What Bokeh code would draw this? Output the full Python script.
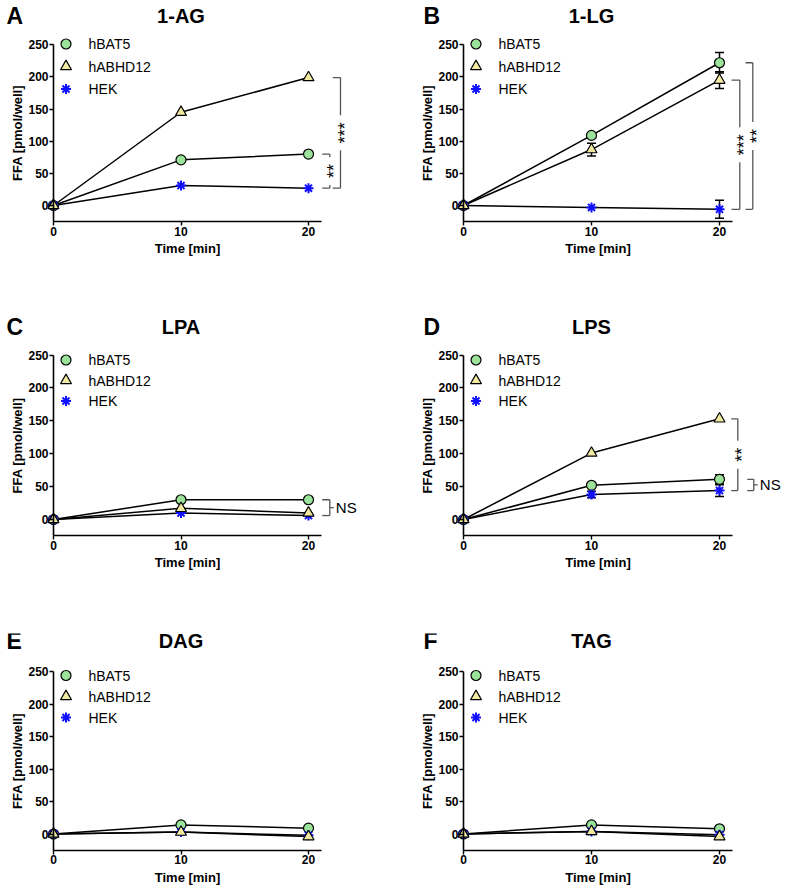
import math
from bokeh.plotting import figure
from bokeh.models import Range1d, FixedTicker, Label, Whisker, TeeHead, ColumnDataSource
from bokeh.layouts import gridplot
from bokeh.core.properties import value
from bokeh.embed import file_html
from bokeh.resources import INLINE

FONT = "Liberation Sans"

# ---------------- data ----------------
time_min = [0, 10, 20]
series_names = ["hBAT5", "hABHD12", "HEK"]
y_ticks = [0, 50, 100, 150, 200, 250]
x_ticks = [0, 10, 20]
y_label = "FFA [pmol/well]"
x_label = "Time [min]"

# A: 1-AG
ag_hbat5 = [0, 71, 80]
ag_hbat5_sem = [0, 0, 0]
ag_habhd12 = [0, 145, 199]
ag_habhd12_sem = [0, 0, 0]
ag_hek = [0, 31, 27]
ag_hek_sem = [0, 0, 0]

# B: 1-LG
lg_hbat5 = [0, 109, 222]
lg_hbat5_sem = [0, 0, 16]
lg_habhd12 = [0, 87, 195]
lg_habhd12_sem = [0, 10, 13]
lg_hek = [0, -3, -6]
lg_hek_sem = [0, 0, 14]

# C: LPA
pa_hbat5 = [0, 30, 30]
pa_hbat5_sem = [0, 0, 0]
pa_habhd12 = [0, 17, 10]
pa_habhd12_sem = [0, 0, 0]
pa_hek = [0, 10, 6]
pa_hek_sem = [0, 0, 0]

# D: LPS
ps_hbat5 = [0, 52, 61]
ps_hbat5_sem = [0, 0, 7]
ps_habhd12 = [0, 101, 153]
ps_habhd12_sem = [0, 0, 0]
ps_hek = [0, 38, 44]
ps_hek_sem = [0, 5, 9]

# E: DAG
dag_hbat5 = [0, 14, 9]
dag_hbat5_sem = [0, 0, 0]
dag_habhd12 = [0, 3, -4]
dag_habhd12_sem = [0, 0, 0]
dag_hek = [0, 3, -2]
dag_hek_sem = [0, 0, 0]

# F: TAG
tag_hbat5 = [0, 14, 8]
tag_hbat5_sem = [0, 0, 0]
tag_habhd12 = [0, 4, -4]
tag_habhd12_sem = [0, 0, 0]
tag_hek = [0, 4, -1]
tag_hek_sem = [0, 0, 0]

# ---------------- styling / geometry ----------------
GREEN = "#9be39b"
YELLOW = "#efe9a2"
BLUE = "#1010ff"
BRACKET = "#555555"
Y_MIN, Y_MAX = -25, 250
X_MIN, X_MAX = 0, 21

COLS = [dict(left=0, w=394, x0=53, sx=12.75, letter_x=6),
        dict(left=394, w=394, x0=463, sx=12.8, letter_x=423)]
# bt / bb: top and bottom borders, chosen so the y-axis title is centred on the axis
ROWS = [dict(top=0, h=290, bt=0, bb=25, y0=205, sy=0.643, title_y=15.5, leg_y=43.5, leg_dy=22.5),
        dict(top=290, h=300, bt=10, bb=0, y0=519, sy=0.658, title_y=326, leg_y=359.5, leg_dy=20.5),
        dict(top=590, h=298, bt=43, bb=0, y0=833.5, sy=0.65, title_y=640, leg_y=675, leg_dy=21)]


def make_panel(letter, title, col, row, data, brackets):
    c, r = COLS[col], ROWS[row]
    sx, sy = c["sx"], r["sy"]

    def dxp(px):
        return (px - c["x0"]) / sx

    def dyp(py):
        return (r["y0"] - py) / sy

    W, H = c["w"], r["h"]
    p = figure(width=W, height=H,
               x_range=Range1d(dxp(c["left"]), dxp(c["left"] + W)),
               y_range=Range1d(dyp(r["top"] + H - r["bb"]), dyp(r["top"] + r["bt"])),
               output_backend="svg", toolbar_location=None, min_border=0,
               min_border_top=r["bt"], min_border_bottom=r["bb"],
               outline_line_color=None, background_fill_color="white",
               border_fill_color="white")
    p.grid.visible = False

    # axes
    p.xaxis.fixed_location = Y_MIN
    p.xaxis.bounds = (X_MIN, X_MAX)
    p.xaxis.ticker = FixedTicker(ticks=x_ticks)
    p.xaxis.axis_label = x_label
    p.xaxis.axis_label_standoff = 2
    p.yaxis.fixed_location = 0
    p.yaxis.bounds = (Y_MIN, Y_MAX)
    p.yaxis.ticker = FixedTicker(ticks=y_ticks)
    p.yaxis.axis_label = y_label
    p.yaxis.axis_label_standoff = 0
    for ax in (p.xaxis, p.yaxis):
        ax.axis_line_color = "black"
        ax.axis_line_width = 1.6
        ax.major_tick_line_color = "black"
        ax.major_tick_line_width = 1.4
        ax.major_tick_out = 4
        ax.major_tick_in = 0
        ax.minor_tick_line_color = None
        ax.major_label_text_font = FONT
        ax.major_label_text_font_style = "bold"
        ax.major_label_text_font_size = "12px"
        ax.major_label_text_color = "black"
        ax.major_label_standoff = 1
        ax.axis_label_text_font = FONT
        ax.axis_label_text_font_style = "bold"
        ax.axis_label_text_font_size = "13px"
        ax.axis_label_text_color = "black"

    bat5, bat5_sem, abhd, abhd_sem, hek, hek_sem = data

    # lines
    for ys in (bat5, abhd, hek):
        p.line(time_min, ys, line_color="black", line_width=1.5)

    # error bars
    for ys, sem in ((bat5, bat5_sem), (abhd, abhd_sem), (hek, hek_sem)):
        xs = [t for t, s in zip(time_min, sem) if s > 0]
        if not xs:
            continue
        up = [v + s for v, s in zip(ys, sem) if s > 0]
        lo = [v - s for v, s in zip(ys, sem) if s > 0]
        src = ColumnDataSource(dict(x=xs, upper=up, lower=lo))
        p.add_layout(Whisker(source=src, base="x", upper="upper", lower="lower",
                             line_color="black", line_width=1.5,
                             upper_head=TeeHead(size=9, line_color="black", line_width=1.5),
                             lower_head=TeeHead(size=9, line_color="black", line_width=1.5)))

    # markers
    p.scatter(time_min, bat5, marker="circle", size=10, fill_color=GREEN,
              line_color="black", line_width=1.2)
    p.scatter(time_min, hek, marker="asterisk", size=10, line_color=BLUE, line_width=2)
    p.scatter(time_min, abhd, marker="triangle", size=11, fill_color=YELLOW,
              line_color="black", line_width=1.2)

    # legend (drawn in the plot, top-left)
    lx = dxp(c["x0"] + 12.5)
    ly = [dyp(r["leg_y"] + i * r["leg_dy"]) for i in range(3)]
    p.scatter([lx], [ly[0]], marker="circle", size=10, fill_color=GREEN,
              line_color="black", line_width=1.2)
    p.scatter([lx], [ly[1]], marker="triangle", size=11, fill_color=YELLOW,
              line_color="black", line_width=1.2)
    p.scatter([lx], [ly[2]], marker="asterisk", size=10, line_color=BLUE, line_width=2)
    p.text(x=[dxp(c["x0"] + 35)] * 3, y=ly, text=series_names,
           text_font=value(FONT), text_font_size="14px", text_color="black",
           text_baseline="middle", text_align="left")

    # titles
    p.add_layout(Label(x=dxp(c["letter_x"]), y=dyp(r["title_y"]), text=letter,
                       text_font=FONT, text_font_size="23px", text_font_style="bold",
                       text_color="black", text_align="left", text_baseline="middle"))
    p.add_layout(Label(x=10, y=dyp(r["title_y"]), text=title,
                       text_font=FONT, text_font_size="20px", text_font_style="bold",
                       text_color="black", text_align="center", text_baseline="middle"))

    # significance brackets
    for (y_top, y_bot, xa_px, xb_px, txt, kind) in brackets:
        xa = 20 + xa_px / sx
        xb = 20 + xb_px / sx
        ym = (y_top + y_bot) / 2
        segs_x0 = [xa, xa]
        segs_y0 = [y_top, y_bot]
        segs_x1 = [xb, xb]
        segs_y1 = [y_top, y_bot]
        if kind == "rot":
            gh = (len(txt) * 7 + 14) / 2 / sy
            segs_x0 += [xb, xb]
            segs_y0 += [y_top, ym - gh]
            segs_x1 += [xb, xb]
            segs_y1 += [ym + gh, y_bot]
            p.add_layout(Label(x=xb, y=ym, text=txt, angle=math.pi / 2, x_offset=4,
                               text_font=FONT, text_font_size="18px", text_color="black",
                               text_align="center", text_baseline="middle"))
        else:
            segs_x0 += [xb, xb]
            segs_y0 += [y_top, ym]
            segs_x1 += [xb, xb + 4 / sx]
            segs_y1 += [y_bot, ym]
            p.add_layout(Label(x=xb + 6 / sx, y=ym, text=txt,
                               text_font=FONT, text_font_size="15px", text_color="black",
                               text_align="left", text_baseline="middle"))
        p.segment(segs_x0, segs_y0, segs_x1, segs_y1, line_color=BRACKET, line_width=1.3)
    return p


pA = make_panel("A", "1-AG", 0, 0,
                (ag_hbat5, ag_hbat5_sem, ag_habhd12, ag_habhd12_sem, ag_hek, ag_hek_sem),
                [(ag_habhd12[2], ag_hek[2], 24.3, 32.0, "***", "rot"),
                 (ag_hbat5[2], ag_hek[2], 13.7, 21.3, "**", "rot")])
pB = make_panel("B", "1-LG", 1, 0,
                (lg_hbat5, lg_hbat5_sem, lg_habhd12, lg_habhd12_sem, lg_hek, lg_hek_sem),
                [(lg_habhd12[2], lg_hek[2], 12.0, 20.3, "***", "rot"),
                 (lg_hbat5[2], lg_hek[2], 26.0, 33.3, "**", "rot")])
pC = make_panel("C", "LPA", 0, 1,
                (pa_hbat5, pa_hbat5_sem, pa_habhd12, pa_habhd12_sem, pa_hek, pa_hek_sem),
                [(pa_hbat5[2], pa_hek[2], 13.7, 21.3, "NS", "ns")])
pD = make_panel("D", "LPS", 1, 1,
                (ps_hbat5, ps_hbat5_sem, ps_habhd12, ps_habhd12_sem, ps_hek, ps_hek_sem),
                [(ps_habhd12[2], ps_hek[2], 11.7, 18.3, "**", "rot"),
                 (ps_hbat5[2], ps_hek[2], 27.7, 34.3, "NS", "ns")])
pE = make_panel("E", "DAG", 0, 2,
                (dag_hbat5, dag_hbat5_sem, dag_habhd12, dag_habhd12_sem, dag_hek, dag_hek_sem),
                [])
pF = make_panel("F", "TAG", 1, 2,
                (tag_hbat5, tag_hbat5_sem, tag_habhd12, tag_habhd12_sem, tag_hek, tag_hek_sem),
                [])

grid = gridplot([[pA, pB], [pC, pD], [pE, pF]], toolbar_location=None)

open("out.html", "w").write(file_html(grid, INLINE))
